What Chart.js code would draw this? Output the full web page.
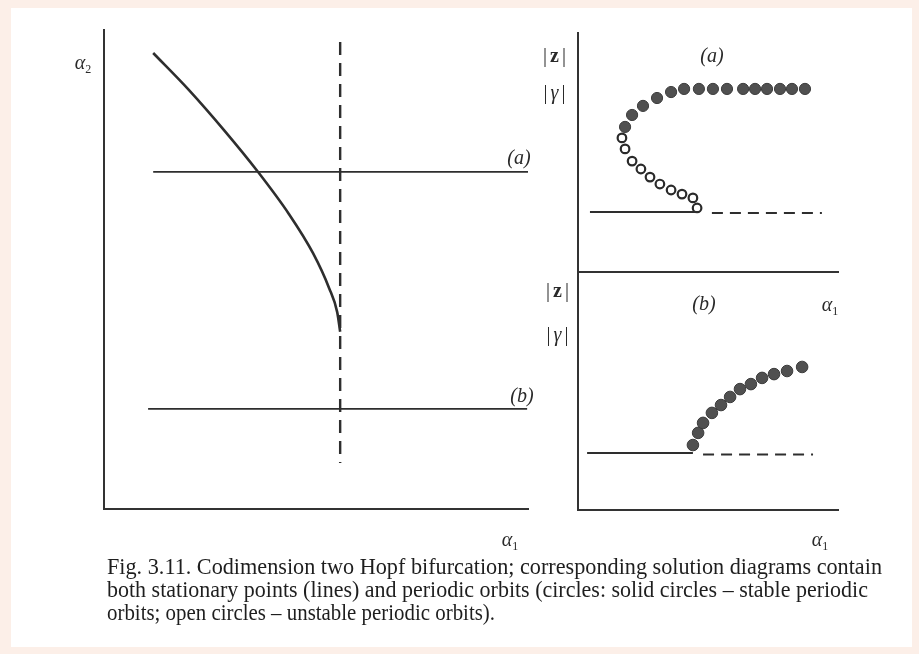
<!DOCTYPE html>
<html>
<head>
<meta charset="utf-8">
<script src="https://cdn.jsdelivr.net/npm/chart.js@4/dist/chart.umd.min.js"></script>
<style>
  html, body { margin: 0; padding: 0; }
  body { width: 919px; height: 654px; background: #fcefe8; position: relative; overflow: hidden; }
  .sheet { position: absolute; left: 11px; top: 8px; width: 901px; height: 639px; background: #fff; }
  .panel { position: absolute; left: 0; top: 0; width: 919px; height: 654px; }
  .lbl { position: absolute; transform: translate(-50%, -50%); font-family: "Liberation Serif", "DejaVu Serif", serif;
         color: #2a2a2a; font-size: 20px; white-space: nowrap; line-height: 1; }
  .lbl i { font-style: italic; }
  .lbl sub { font-size: 12px; vertical-align: -4px; }
  .bar { letter-spacing: 3px; }
  .cap { position: absolute; left: 107px; font-family: "Liberation Serif", serif; font-size: 23px; color: #1e1e1e;
         white-space: nowrap; transform-origin: 0 50%; line-height: 1; }
</style>
</head>
<body>
<div class="sheet"></div>
<div class="panel"><canvas id="paramPlane"></canvas></div>
<div class="panel"><canvas id="diagramA"></canvas></div>
<div class="panel"><canvas id="diagramB"></canvas></div>

<div class="lbl" style="left:83px;top:63px"><i>α</i><sub>2</sub></div>
<div class="lbl" style="left:510px;top:540px"><i>α</i><sub>1</sub></div>
<div class="lbl" style="left:519px;top:157px"><i>(a)</i></div>
<div class="lbl" style="left:522px;top:395px"><i>(b)</i></div>

<div class="lbl bar" style="left:556px;top:55px">|<b>z</b>|</div>
<div class="lbl bar" style="left:556px;top:92px">|<i>γ</i>|</div>
<div class="lbl" style="left:712px;top:55px"><i>(a)</i></div>
<div class="lbl bar" style="left:559px;top:290px">|<b>z</b>|</div>
<div class="lbl bar" style="left:559px;top:334px">|<i>γ</i>|</div>
<div class="lbl" style="left:704px;top:303px"><i>(b)</i></div>
<div class="lbl" style="left:830px;top:305px"><i>α</i><sub>1</sub></div>
<div class="lbl" style="left:820px;top:540px"><i>α</i><sub>1</sub></div>

<div class="cap" data-w="775" style="top:555px">Fig. 3.11. Codimension two Hopf bifurcation; corresponding solution diagrams contain</div>
<div class="cap" data-w="761" style="top:578px">both stationary points (lines) and periodic orbits (circles: solid circles – stable periodic</div>
<div class="cap" data-w="388" style="top:601px">orbits; open circles – unstable periodic orbits).</div>

<script>
// parameter plane (alpha1, alpha2)
const hopfCurveA1 = [11.6, 20.0, 28.3, 36.3, 43.6, 49.3, 53.1, 55.0, 55.7];
const hopfCurveA2 = [95.2, 87.5, 79.1, 70.4, 61.6, 53.4, 46.1, 41.1, 37.0];
const cutAx = [11.6, 100];
const cutAy = [70.4, 70.4];
const cutBx = [10.4, 99.8];
const cutBy = [20.9, 20.9];
const foldLineX = [55.7, 55.7];
const foldLineY = [97.5, 9.6];

// solution diagram (a)
const stableAx = [18.1, 20.8, 25.0, 30.4, 35.8, 40.8, 46.5, 51.9, 57.3, 63.5, 68.1, 72.7, 77.7, 82.3, 87.3];
const stableAy = [60.7, 65.7, 69.5, 72.8, 75.3, 76.6, 76.6, 76.6, 76.6, 76.6, 76.6, 76.6, 76.6, 76.6, 76.6];
const unstableAx = [16.9, 18.1, 20.8, 24.2, 27.7, 31.5, 35.8, 40.0, 44.2, 45.8];
const unstableAy = [56.1, 51.5, 46.4, 43.1, 39.7, 36.8, 34.3, 32.6, 31.0, 26.8];
const steadyAx = [4.6, 46.2];
const steadyAy = [25.1, 25.1];
const steadyUnstAx = [51.5, 93.8];
const steadyUnstAy = [24.7, 24.7];

// solution diagram (b)
const stableBx = [44.2, 46.2, 48.1, 51.5, 55.0, 58.5, 62.3, 66.5, 70.8, 75.4, 80.4, 86.2];
const stableBy = [27.3, 32.4, 36.6, 40.8, 44.1, 47.5, 50.8, 52.9, 55.5, 57.1, 58.4, 60.1];
const steadyBx = [3.5, 44.2];
const steadyBy = [23.9, 23.9];
const steadyUnstBx = [48.1, 90.4];
const steadyUnstBy = [23.3, 23.3];

const INK = '#2e2e2e';

function zip(xs, ys) {
  return xs.map((x, i) => ({ x, y: ys[i] }));
}

function lineSet(xs, ys, dash, width) {
  return {
    data: zip(xs, ys),
    showLine: true,
    borderColor: INK,
    borderWidth: width || 2,
    borderDash: dash || [],
    pointRadius: 0,
    tension: 0,
    clip: false
  };
}

function dotSet(xs, ys, open, r) {
  return {
    data: zip(xs, ys),
    showLine: false,
    pointRadius: r,
    pointBackgroundColor: open ? '#ffffff' : '#505050',
    pointBorderColor: open ? '#2a2a2a' : '#3c3c3c',
    pointBorderWidth: open ? 2.2 : 1,
    clip: false
  };
}

function axes() {
  const border = { display: true, color: '#333', width: 2 };
  return {
    x: { type: 'linear', min: 0, max: 100, grid: { display: false, drawTicks: false }, ticks: { display: false }, border },
    y: { type: 'linear', min: 0, max: 100, grid: { display: false, drawTicks: false }, ticks: { display: false }, border }
  };
}

function makeChart(id, datasets, area) {
  return new Chart(document.getElementById(id), {
    type: 'scatter',
    data: { datasets },
    options: {
      responsive: true,
      maintainAspectRatio: false,
      animation: false,
      events: [],
      layout: { padding: { left: area.left, top: area.top, right: 919 - area.right, bottom: 654 - area.bottom } },
      scales: axes(),
      plugins: { legend: { display: false }, tooltip: { enabled: false } }
    }
  });
}

makeChart('paramPlane', [
  Object.assign(lineSet(hopfCurveA1, hopfCurveA2, [], 2.6), { cubicInterpolationMode: 'monotone' }),
  lineSet(cutAx, cutAy, [], 1.8),
  lineSet(cutBx, cutBy, [], 1.8),
  lineSet(foldLineX, foldLineY, [13, 8], 2.4)
], { left: 104, right: 528, top: 30, bottom: 509 });

makeChart('diagramA', [
  lineSet(steadyAx, steadyAy, [], 2),
  lineSet(steadyUnstAx, steadyUnstAy, [11, 7], 2),
  dotSet(unstableAx, unstableAy, true, 4.3),
  dotSet(stableAx, stableAy, false, 5.6)
], { left: 578, right: 838, top: 33, bottom: 272 });

makeChart('diagramB', [
  lineSet(steadyBx, steadyBy, [], 2),
  lineSet(steadyUnstBx, steadyUnstBy, [11, 7], 2),
  dotSet(stableBx, stableBy, false, 5.8)
], { left: 578, right: 838, top: 272, bottom: 510 });

// fit caption lines to the set widths
document.querySelectorAll('.cap').forEach((el) => {
  const w = el.getBoundingClientRect().width;
  el.style.transform = 'scaleX(' + (Number(el.dataset.w) / w).toFixed(4) + ')';
});
</script>
</body>
</html>
